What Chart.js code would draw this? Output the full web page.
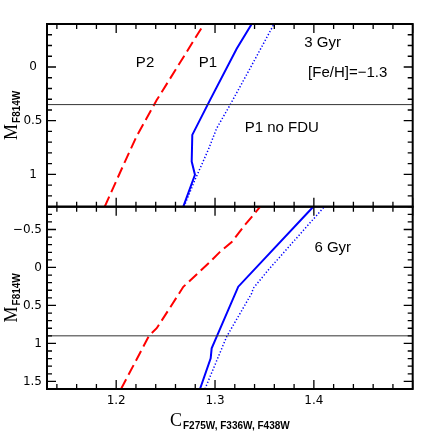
<!DOCTYPE html>
<html>
<head>
<meta charset="utf-8">
<title>P1 / P2 isochrones</title>
<script src="https://cdn.jsdelivr.net/npm/chart.js@4.4.1/dist/chart.umd.min.js"></script>
<style>
    html, body { margin: 0; padding: 0; background: #ffffff; }
    #wrap { position: relative; width: 436px; height: 436px; }
    #wrap canvas { position: absolute; left: 0; top: 0; }
</style>
</head>
<body>
<div id="wrap">
    <canvas id="topChart" width="436" height="436"></canvas>
    <canvas id="bottomChart" width="436" height="436"></canvas>
</div>
<script>
// shared colour axis
const xRange = [1.13, 1.5];
const xLabelTicks = [1.2, 1.3, 1.4];

// 3 Gyr panel, points are [C, M]
const topRange = [-0.4, 1.3];
const topLabelTicks = [0, 0.5, 1];
const topP2 = [[1.1884, 1.3], [1.2089, 0.88], [1.2208, 0.642], [1.241, 0.308], [1.2865, -0.365]];
const topP1 = [[1.2679, 1.3], [1.2797, 1.003], [1.2764, 0.88], [1.277, 0.632], [1.2949, 0.308], [1.3219, -0.17], [1.3371, -0.4]];
const topP1NoFdu = [[1.2686, 1.3], [1.2797, 1.05], [1.2932, 0.77], [1.3017, 0.57], [1.3151, 0.355], [1.3374, -0.02], [1.3597, -0.4]];
const topLimit = 0.35;
const topNotes = [['P2', 1.2292, -0.037], ['P1', 1.2929, -0.037], ['3 Gyr', 1.4089, -0.226],
    ['[Fe/H]=\u22121.3', 1.4342, 0.059], ['P1 no FDU', 1.3675, 0.565]];

// 6 Gyr panel
const bottomRange = [-0.8, 1.6];
const bottomLabelTicks = [-0.5, 0, 0.5, 1, 1.5];
const bottomP2 = [[1.2049, 1.6], [1.2332, 0.9], [1.241, 0.8], [1.2559, 0.5], [1.2679, 0.255], [1.2949, -0.073],
    [1.305, -0.205], [1.3169, -0.336], [1.3303, -0.56], [1.3458, -0.8]];
const bottomP1 = [[1.2848, 1.6], [1.2956, 1.195], [1.2966, 1.064], [1.3017, 0.91], [1.3235, 0.253], [1.3994, -0.8]];
const bottomP1NoFdu = [[1.2898, 1.6], [1.3118, 0.91], [1.3371, 0.34], [1.3387, 0.274], [1.3539, 0.033], [1.4106, -0.8]];
const bottomLimit = 0.9;
const bottomNotes = [['6 Gyr', 1.4191, -0.253]];

const tickFont = { family: 'DejaVu Sans', size: 12 };

function toPoints(pairs) {
    return pairs.map(p => ({ x: p[0], y: p[1] }));
}

function fmt(v) {
    return (v < 0 ? '\u2212' : '') + Math.abs(v);
}

function panelDatasets(p2, p1, p1NoFdu, limit) {
    return [
        { data: toPoints([[xRange[0], limit], [xRange[1], limit]]), borderColor: '#333333', borderWidth: 1 },
        { data: toPoints(p2), borderColor: '#ff0000', borderWidth: 2, borderDash: [11, 5] },
        { data: toPoints(p1), borderColor: '#0000ff', borderWidth: 2 },
        { data: toPoints(p1NoFdu), borderColor: '#0000ff', borderWidth: 1.5, borderDash: [1.3, 2] }
    ];
}

// box with inward ticks on all four sides
const framePlugin = {
    id: 'frame',
    afterDatasetsDraw(chart) {
        const { ctx, chartArea: a } = chart;
        const x = chart.scales.x, y = chart.scales.y;
        ctx.save();
        ctx.strokeStyle = '#000';
        ctx.lineWidth = 1.3;
        ctx.beginPath();
        for (let k = Math.ceil(x.min / 0.02 - 1e-6); k * 0.02 <= x.max + 1e-9; k++) {
            const px = x.getPixelForValue(k * 0.02);
            const len = k % 5 === 0 ? 9 : 5;
            ctx.moveTo(px, a.bottom); ctx.lineTo(px, a.bottom - len);
            ctx.moveTo(px, a.top); ctx.lineTo(px, a.top + len);
        }
        for (let k = Math.ceil(y.min / 0.1 - 1e-6); k * 0.1 <= y.max + 1e-9; k++) {
            const py = y.getPixelForValue(k * 0.1);
            const len = k % 5 === 0 ? 9 : 5;
            ctx.moveTo(a.left, py); ctx.lineTo(a.left + len, py);
            ctx.moveTo(a.right, py); ctx.lineTo(a.right - len, py);
        }
        ctx.stroke();
        ctx.lineWidth = 2;
        ctx.strokeRect(a.left, a.top, a.right - a.left, a.bottom - a.top);
        ctx.restore();
    }
};

// text notes placed in data coordinates
function notesPlugin(notes) {
    return {
        id: 'notes',
        afterDatasetsDraw(chart) {
            const { ctx } = chart;
            ctx.save();
            ctx.fillStyle = '#000';
            ctx.font = '15px "Liberation Sans"';
            ctx.textAlign = 'center';
            ctx.textBaseline = 'middle';
            notes.forEach(n => {
                ctx.fillText(n[0], chart.scales.x.getPixelForValue(n[1]), chart.scales.y.getPixelForValue(n[2]));
            });
            ctx.restore();
        }
    };
}

// letter with a subscript, optionally turned to read upward
function drawSubLabel(ctx, main, sub, cx, baseline, vertical) {
    ctx.save();
    const mainFont = '18px "Liberation Serif"';
    const subFont = 'bold 10px "Liberation Sans"';
    ctx.font = mainFont;
    const wm = ctx.measureText(main).width;
    ctx.font = subFont;
    const ws = ctx.measureText(sub).width;
    const total = wm + 1 + ws;
    if (vertical) {
        ctx.translate(baseline, cx);
        ctx.rotate(-Math.PI / 2);
    } else {
        ctx.translate(cx, baseline);
    }
    ctx.fillStyle = '#000';
    ctx.textBaseline = 'alphabetic';
    ctx.textAlign = 'left';
    ctx.font = mainFont;
    ctx.fillText(main, -total / 2, 0);
    ctx.font = subFont;
    ctx.fillText(sub, -total / 2 + wm + 1, 3);
    ctx.restore();
}

function titlesPlugin(withX) {
    return {
        id: 'titles',
        afterDraw(chart) {
            const { ctx, chartArea: a } = chart;
            drawSubLabel(ctx, 'M', 'F814W', (a.top + a.bottom) / 2, 16.5, true);
            if (withX) {
                drawSubLabel(ctx, 'C', 'F275W, F336W, F438W', (a.left + a.right) / 2, 426, false);
            }
        }
    };
}

function makePanel(id, range, labelTicks, datasets, notes, showX) {
    const ctx = document.getElementById(id).getContext('2d');
    return new Chart(ctx, {
        type: 'scatter',
        data: { datasets: datasets },
        options: {
            responsive: false,
            animation: false,
            devicePixelRatio: 1,
            layout: {
                padding: showX
                    ? { left: 0, right: 23.3, top: 206.7, bottom: 0 }
                    : { left: 0, right: 23.3, top: 24, bottom: 229.3 }
            },
            elements: {
                point: { radius: 0, hoverRadius: 0 },
                line: { tension: 0, fill: false }
            },
            datasets: { scatter: { showLine: true } },
            plugins: {
                legend: { display: false },
                tooltip: { enabled: false }
            },
            scales: {
                x: {
                    type: 'linear',
                    display: showX,
                    min: xRange[0],
                    max: xRange[1],
                    afterBuildTicks: s => { s.ticks = xLabelTicks.map(v => ({ value: v })); },
                    afterFit: s => { s.height = showX ? 47 : 0; },
                    grid: { display: false, drawTicks: false },
                    border: { display: false },
                    ticks: { callback: v => fmt(v), font: tickFont, color: '#000', padding: 5, maxRotation: 0 }
                },
                y: {
                    type: 'linear',
                    reverse: true,
                    min: range[0],
                    max: range[1],
                    afterBuildTicks: s => { s.ticks = labelTicks.map(v => ({ value: v })); },
                    afterFit: s => { s.width = 47; },
                    grid: { display: false, drawTicks: false },
                    border: { display: false },
                    ticks: {
                        callback: v => fmt(v), font: tickFont, color: '#000',
                        padding: showX ? 5 : 4.5, crossAlign: showX ? 'near' : 'center'
                    }
                }
            }
        },
        plugins: [framePlugin, notesPlugin(notes), titlesPlugin(showX)]
    });
}

makePanel('topChart', topRange, topLabelTicks, panelDatasets(topP2, topP1, topP1NoFdu, topLimit), topNotes, false);
makePanel('bottomChart', bottomRange, bottomLabelTicks, panelDatasets(bottomP2, bottomP1, bottomP1NoFdu, bottomLimit), bottomNotes, true);
</script>
</body>
</html>
